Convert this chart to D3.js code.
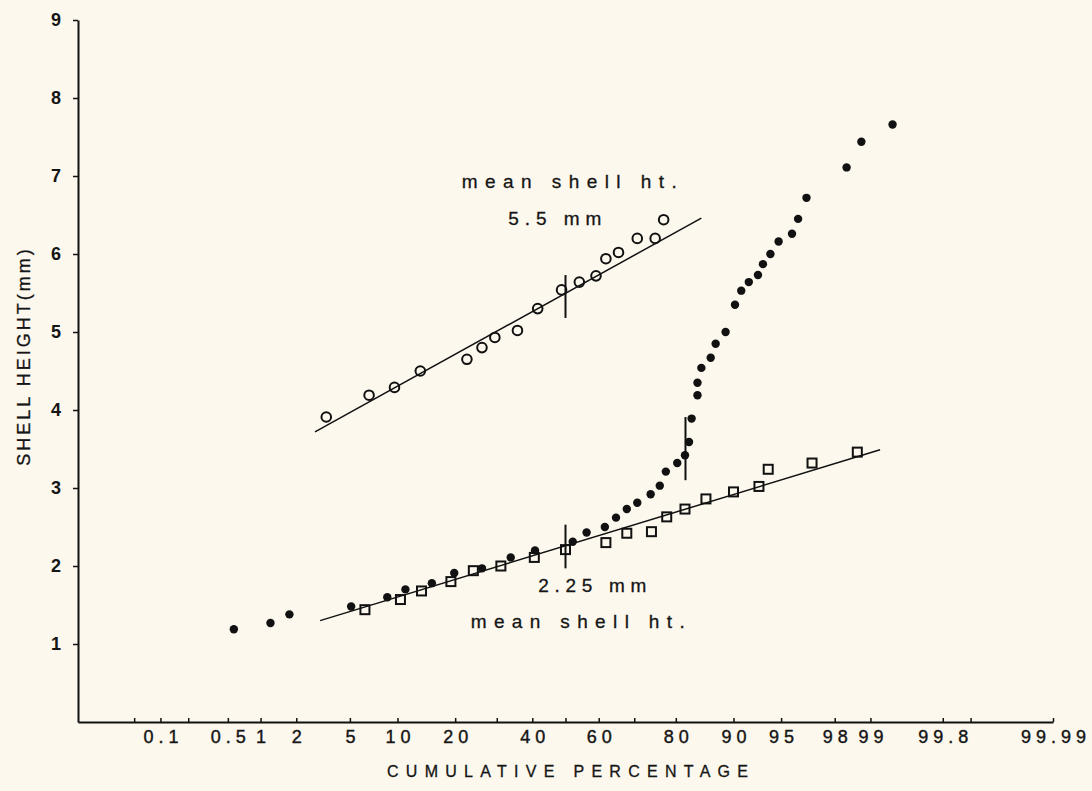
<!DOCTYPE html>
<html>
<head>
<meta charset="utf-8">
<script src="https://cdn.jsdelivr.net/npm/d3@7"></script>
<style>
  html, body { margin: 0; padding: 0; background: #fcf8ee; }
  svg { display: block; }
  text { font-family: "Liberation Sans", Arial, Helvetica, sans-serif; fill: #151515; }
</style>
</head>
<body>
<svg id="chart" width="1092" height="791"></svg>
<script>
// probability-axis ticks (cumulative %)
const xTicks = [0.05, 0.1, 0.2, 0.5, 1, 2, 5, 10, 20, 30, 40, 50, 60, 70, 80, 90, 95, 98, 99, 99.8, 99.9, 99.99];
const xTickLabels = ["", "0.1", "", "0.5", "1", "2", "5", "10", "20", "", "40", "", "60", "", "80", "90", "95", "98", "99", "99.8", "", "99.99"];
const yTicks = [1, 2, 3, 4, 5, 6, 7, 8, 9];

// open circles: upper group
const circlePct = [3.4, 6.7, 9.6, 13.4, 22.6, 26.2, 29.5, 35.7, 41.6, 48.8, 54.2, 59.2, 62.1, 65.7, 70.8, 75.3, 77.3];
const circleHt  = [3.91, 4.19, 4.29, 4.5, 4.65, 4.8, 4.93, 5.02, 5.30, 5.54, 5.64, 5.72, 5.94, 6.02, 6.20, 6.20, 6.44];

// filled dots: whole sample
const dotPct = [0.57, 1.22, 1.76, 5.1, 8.7, 11.1, 15.4, 19.8, 26.2, 33.8, 40.8, 52.2, 56.4, 61.8, 65.0, 68.0, 70.8, 74.2, 76.4,
                77.8, 80.3, 81.9, 82.7, 83.2, 84.3, 84.3, 85.0, 86.6, 87.4, 88.9, 90.2, 91.0, 91.9, 92.9, 93.4, 94.1, 94.8,
                95.8, 96.2, 96.7, 98.4, 98.8, 99.37];
const dotHt  = [1.19, 1.27, 1.38, 1.48, 1.60, 1.70, 1.78, 1.91, 1.97, 2.11, 2.20, 2.31, 2.43, 2.50, 2.62, 2.73, 2.81, 2.92, 3.03,
                3.21, 3.32, 3.42, 3.59, 3.89, 4.19, 4.35, 4.54, 4.67, 4.85, 5.00, 5.35, 5.53, 5.64, 5.73, 5.87, 6.00, 6.16,
                6.26, 6.45, 6.72, 7.11, 7.44, 7.66];

// open squares: lower group
const squarePct = [6.3, 10.4, 13.6, 19.1, 24.1, 31.1, 40.6, 50.0, 62.1, 68.0, 74.4, 78.0, 81.9, 85.8, 90.0, 93.0, 93.9, 97.0, 98.7];
const squareHt  = [1.44, 1.57, 1.68, 1.80, 1.94, 2.00, 2.11, 2.21, 2.30, 2.42, 2.44, 2.63, 2.73, 2.86, 2.95, 3.02, 3.24, 3.32, 3.46];

// fitted lines (end points) and mean markers
const upperFitPct = [2.8, 85.0], upperFitHt = [3.72, 6.46];
const lowerFitPct = [3.06, 99.18], lowerFitHt = [1.30, 3.49];
const markerPct  = [50, 50, 82];
const markerLow  = [5.18, 1.97, 3.10];
const markerHigh = [5.73, 2.53, 3.91];

// inverse normal cdf (Acklam)
function probit(p) {
    const a = [-3.969683028665376e+01, 2.209460984245205e+02, -2.759285104469687e+02, 1.383577518672690e+02, -3.066479806614716e+01, 2.506628277459239e+00];
    const b = [-5.447609879822406e+01, 1.615858368580409e+02, -1.556989798598866e+02, 6.680131188771972e+01, -1.328068155288572e+01];
    const c = [-7.784894002430293e-03, -3.223964580411365e-01, -2.400758277161838e+00, -2.549732539343734e+00, 4.374664141464968e+00, 2.938163982698783e+00];
    const d = [7.784695709041462e-03, 3.224671290700398e-01, 2.445134137142996e+00, 3.754408661907416e+00];
    const pl = 0.02425;
    if (p < pl) {
        const q = Math.sqrt(-2 * Math.log(p));
        return (((((c[0]*q+c[1])*q+c[2])*q+c[3])*q+c[4])*q+c[5]) / ((((d[0]*q+d[1])*q+d[2])*q+d[3])*q+1);
    }
    if (p > 1 - pl) {
        const q = Math.sqrt(-2 * Math.log(1 - p));
        return -(((((c[0]*q+c[1])*q+c[2])*q+c[3])*q+c[4])*q+c[5]) / ((((d[0]*q+d[1])*q+d[2])*q+d[3])*q+1);
    }
    const q = p - 0.5, r = q * q;
    return (((((a[0]*r+a[1])*r+a[2])*r+a[3])*r+a[4])*r+a[5])*q / (((((b[0]*r+b[1])*r+b[2])*r+b[3])*r+b[4])*r+1);
}

const svg = d3.select("#chart");
const plotLeft = 78, plotRight = 1053, plotTop = 20, plotBottom = 722;

const zScale = d3.scaleLinear()
    .domain([probit(0.0001), probit(0.9999)])
    .range([plotLeft, plotRight]);
const x = pct => zScale(probit(pct / 100));
const y = d3.scaleLinear().domain([0, 9]).range([plotBottom, plotTop]);

const zip = (ps, hs) => ps.map((p, i) => ({p: p, h: hs[i]}));

// x axis
const xAxis = d3.axisBottom(zScale)
    .tickValues(xTicks.map(p => probit(p / 100)))
    .tickFormat((d, i) => xTickLabels[i])
    .tickSizeInner(-4)
    .tickSizeOuter(0);

const gx = svg.append("g")
    .attr("transform", `translate(0,${plotBottom})`)
    .call(xAxis);
gx.select(".domain").attr("stroke", "#111").attr("stroke-width", 2);
gx.selectAll(".tick line").attr("stroke", "#111").attr("stroke-width", 1.5);
gx.selectAll(".tick text")
    .attr("y", 21)
    .attr("dy", 0)
    .attr("dx", 2.5)
    .style("font-size", "18px")
    .style("letter-spacing", "5px")
    .attr("fill", "#151515")
    .attr("stroke", "#151515")
    .attr("stroke-width", 0.4);

// y axis
const yAxis = d3.axisLeft(y)
    .tickValues(yTicks)
    .tickFormat(d3.format("d"))
    .tickSizeInner(5)
    .tickSizeOuter(0)
    .tickPadding(12);

const gy = svg.append("g")
    .attr("transform", `translate(${plotLeft},0)`)
    .call(yAxis);
gy.select(".domain").attr("stroke", "#111").attr("stroke-width", 2);
gy.selectAll(".tick line").attr("stroke", "#111").attr("stroke-width", 1.5);
gy.selectAll(".tick text")
    .style("font-size", "18px")
    .style("font-weight", "bold")
    .attr("fill", "#151515");

// axis titles
svg.append("text")
    .attr("x", 567 - 180)
    .attr("y", 777)
    .attr("textLength", 361)
    .attr("lengthAdjust", "spacing")
    .style("font-size", "16px")
    .attr("stroke", "#151515")
    .attr("stroke-width", 0.3)
    .text("CUMULATIVE PERCENTAGE");

svg.append("text")
    .attr("transform", "translate(30,356) rotate(-90)")
    .attr("text-anchor", "middle")
    .style("font-size", "18px")
    .style("letter-spacing", "3px")
    .attr("stroke", "#151515")
    .attr("stroke-width", 0.3)
    .text("SHELL HEIGHT(mm)");

// fitted lines
const line = d3.line().x(d => x(d.p)).y(d => y(d.h));
[zip(upperFitPct, upperFitHt), zip(lowerFitPct, lowerFitHt)].forEach(pts => {
    svg.append("path")
        .datum(pts)
        .attr("d", line)
        .attr("fill", "none")
        .attr("stroke", "#111")
        .attr("stroke-width", 1.5);
});

// mean markers
svg.append("g")
    .selectAll("line")
    .data(markerPct.map((p, i) => ({p: p, lo: markerLow[i], hi: markerHigh[i]})))
    .join("line")
    .attr("x1", d => x(d.p))
    .attr("x2", d => x(d.p))
    .attr("y1", d => y(d.lo))
    .attr("y2", d => y(d.hi))
    .attr("stroke", "#111")
    .attr("stroke-width", 2);

// filled dots
svg.append("g")
    .selectAll("circle")
    .data(zip(dotPct, dotHt))
    .join("circle")
    .attr("cx", d => x(d.p))
    .attr("cy", d => y(d.h))
    .attr("r", 4.2)
    .attr("fill", "#111");

// open squares
const sq = 9;
svg.append("g")
    .selectAll("rect")
    .data(zip(squarePct, squareHt))
    .join("rect")
    .attr("x", d => x(d.p) - sq / 2)
    .attr("y", d => y(d.h) - sq / 2)
    .attr("width", sq)
    .attr("height", sq)
    .attr("fill", "none")
    .attr("stroke", "#111")
    .attr("stroke-width", 2);

// open circles
svg.append("g")
    .selectAll("circle")
    .data(zip(circlePct, circleHt))
    .join("circle")
    .attr("cx", d => x(d.p))
    .attr("cy", d => y(d.h))
    .attr("r", 4.8)
    .attr("fill", "none")
    .attr("stroke", "#111")
    .attr("stroke-width", 2);

// annotations
const notes = [
    {t: "mean shell ht.", x: 461.7, y: 188, w: 215},
    {t: "5.5 mm", x: 508.3, y: 225, w: 93},
    {t: "2.25 mm", x: 538.3, y: 592, w: 108},
    {t: "mean shell ht.", x: 470.7, y: 628, w: 214}
];
svg.append("g")
    .selectAll("text")
    .data(notes)
    .join("text")
    .attr("x", d => d.x)
    .attr("y", d => d.y)
    .attr("textLength", d => d.w)
    .attr("lengthAdjust", "spacing")
    .style("font-size", "19px")
    .attr("stroke", "#151515")
    .attr("stroke-width", 0.3)
    .text(d => d.t);
</script>
</body>
</html>
